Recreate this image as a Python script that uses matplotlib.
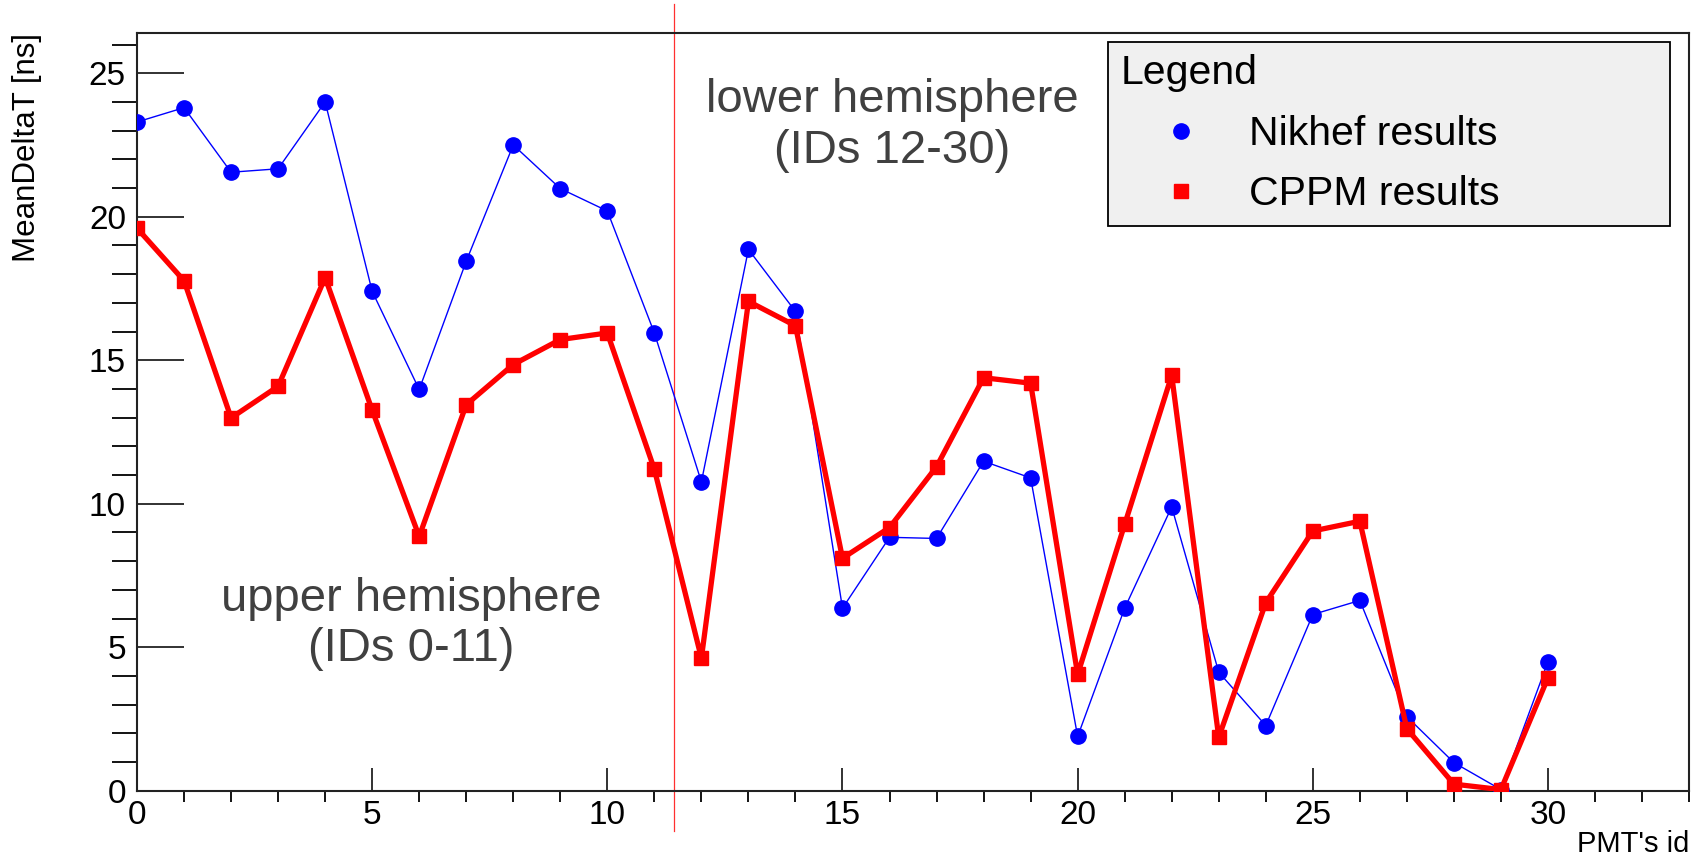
import matplotlib
matplotlib.use("Agg")
import matplotlib.pyplot as plt
from matplotlib.lines import Line2D
from matplotlib.ticker import MultipleLocator

plt.rcParams['font.family'] = ['Liberation Sans', 'DejaVu Sans']

pmt_ids = list(range(31))
nikhef = [23.3, 23.8, 21.55, 21.67, 24.0, 17.4, 13.98, 18.45, 22.5, 20.98,
          20.2, 15.95, 10.76, 18.86, 16.7, 6.36, 8.83, 8.79, 11.48, 10.9,
          1.89, 6.36, 9.89, 4.13, 2.27, 6.14, 6.63, 2.58, 0.98, 0.04, 4.5]
cppm = [19.6, 17.77, 12.99, 14.09, 17.88, 13.26, 8.86, 13.45, 14.85, 15.72,
        15.95, 11.2, 4.62, 17.05, 16.2, 8.1, 9.17, 11.29, 14.39, 14.2,
        4.05, 9.28, 14.47, 1.86, 6.55, 9.05, 9.39, 2.16, 0.23, 0.04, 3.94]
split_x = 11.42

fig = plt.figure(figsize=(17.02, 8.58), dpi=100)
ax = fig.add_axes([0.0805, 0.0784, 0.9119, 0.8831])

ax.plot(pmt_ids, nikhef, color='#0000ff', lw=1.0, marker='o', ms=11,
        mec='#0000ff', zorder=3)
ax.plot(pmt_ids, cppm, color='#ff0000', lw=3.8, marker='s', ms=10,
        mec='#ff0000', zorder=4)

# divider between hemispheres, runs past the frame like the ROOT TLine
ax.plot([split_x, split_x], [-1.4, 27.4], color='#ff3030', lw=0.9,
        clip_on=False, zorder=2)

ax.set_xlim(0, 33)
ax.set_ylim(0, 26.4)

ax.xaxis.set_major_locator(MultipleLocator(5))
ax.xaxis.set_minor_locator(MultipleLocator(1))
ax.yaxis.set_major_locator(MultipleLocator(5))
ax.yaxis.set_minor_locator(MultipleLocator(1))
ax.tick_params(axis='both', direction='in', labelsize=24, width=1.3,
               color='#222222', top=False, right=False)
ax.tick_params(axis='y', which='major', length=34, pad=8)
ax.tick_params(axis='y', which='minor', length=18, width=1.3)
ax.tick_params(axis='x', which='major', length=16.5, pad=7)
ax.tick_params(axis='x', which='minor', length=8, width=1.3)
for sp in ax.spines.values():
    sp.set_linewidth(1.5)
    sp.set_color('#222222')

ax.set_ylabel('MeanDeltaT [ns]', fontsize=22.5, loc='top')
ax.yaxis.set_label_coords(-0.0612, 1.0)
ax.set_xlabel("PMT's id", fontsize=21, loc='right')
ax.xaxis.set_label_coords(1.0, -0.052)

ax.text(5.83, 5.81, 'upper hemisphere\n(IDs 0-11)', fontsize=34,
        color='#404040', ha='center', va='center', linespacing=1.2)
ax.text(16.05, 23.19, 'lower hemisphere\n(IDs 12-30)', fontsize=34,
        color='#404040', ha='center', va='center', linespacing=1.2)

handles = [Line2D([], [], ls='none', marker='o', ms=11, color='#0000ff'),
           Line2D([], [], ls='none', marker='s', ms=10, color='#ff0000')]
leg = ax.legend(handles, ['Nikhef results', 'CPPM results'], title='Legend',
                loc='upper left', bbox_to_anchor=(0.6257, 0.752, 0.3621, 0.236),
                mode='expand', fontsize=29.5, title_fontsize=29.5, alignment='left',
                fancybox=False, edgecolor='black', facecolor='#f0f0f0',
                framealpha=1, borderpad=0.3, handlelength=2.95,
                handletextpad=0.2, labelspacing=0.55, borderaxespad=0)
leg.get_frame().set_linewidth(1.3)

fig.savefig('out.png', dpi=100)
